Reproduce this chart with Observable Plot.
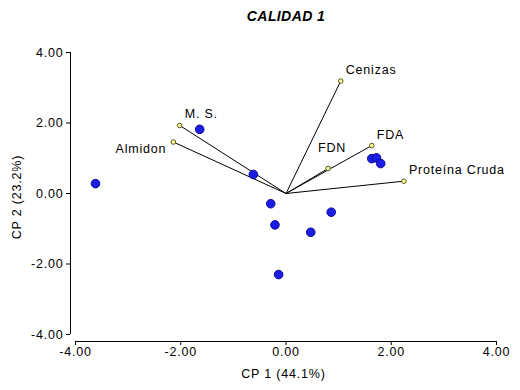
<!DOCTYPE html>
<html>
<head>
<meta charset="utf-8">
<script src="https://cdn.jsdelivr.net/npm/d3@7"></script>
<script src="https://cdn.jsdelivr.net/npm/@observablehq/plot@0.6"></script>
<style>
  html, body { margin: 0; padding: 0; background: #fff; }
  #wrap { position: relative; width: 520px; height: 390px; font-family: "Liberation Sans", Arial, sans-serif; }
  #title { position: absolute; left: 0; width: 572px; top: 8px; text-align: center; font-weight: bold; font-style: italic; font-size: 14px; letter-spacing: 0.4px; color: #000; }
  #wrap svg text { letter-spacing: 0.8px; }
</style>
</head>
<body>
<div id="wrap"><div id="title">CALIDAD 1</div></div>
<script>
// Observation scores (CP 1, CP 2)
const scoreX = [-3.62, -1.64, -0.62, -0.29, -0.21, -0.14, 0.47, 0.86, 1.63, 1.72, 1.80];
const scoreY = [0.28, 1.82, 0.54, -0.29, -0.89, -2.30, -1.10, -0.53, 0.99, 1.01, 0.85];

// Variable loadings (vector end points)
const varNames = ["Cenizas", "FDA", "FDN", "Proteína Cruda", "M. S.", "Almidon"];
const loadX = [1.04, 1.63, 0.80, 2.24, -2.02, -2.14];
const loadY = [3.19, 1.36, 0.71, 0.35, 1.93, 1.46];

const ticks = [-4, -2, 0, 2, 4];

const scores = scoreX.map((x, i) => ({x, y: scoreY[i]}));
const loads = varNames.map((name, i) => ({name, x: loadX[i], y: loadY[i]}));

const fmt = d => d.toFixed(2);
const font = "Liberation Sans, Arial, sans-serif";

const chart = Plot.plot({
  width: 520,
  height: 390,
  marginLeft: 70,
  marginRight: 24,
  marginTop: 52,
  marginBottom: 49,
  insetLeft: 5,
  insetBottom: 7,
  style: {fontFamily: font, fontSize: "12.5px", color: "#000", background: "#fff"},
  x: {domain: [-4, 4]},
  y: {domain: [-4, 4]},
  marks: [
    Plot.ruleY([-4], {x1: -4, x2: 4, dy: 7, stroke: "#000"}),
    Plot.ruleX([-4], {y1: -4, y2: 4, dx: -5, stroke: "#000"}),
    Plot.axisX({ticks, tickFormat: fmt, tickSize: 4, tickPadding: 2, label: "CP 1 (44.1%)", labelAnchor: "center", labelArrow: "none", labelOffset: 36, fontSize: 12.5, fill: "#000", stroke: "#000"}),
    Plot.axisY({ticks, tickFormat: fmt, tickSize: 4, tickPadding: 3, label: "CP 2 (23.2%)", labelAnchor: "center", labelArrow: "none", labelOffset: 58, fontSize: 12.5, fill: "#000", stroke: "#000"}),
    Plot.link(loads, {x1: 0, y1: 0, x2: "x", y2: "y", stroke: "#000", strokeWidth: 1}),
    Plot.dot(loads, {x: "x", y: "y", r: 2.3, fill: "#ffff99", stroke: "#555520", strokeWidth: 1}),
    Plot.dot(scores, {x: "x", y: "y", r: 4.3, fill: "#1c1ce8", stroke: "#0a0a90", strokeWidth: 1}),
    Plot.text(loads.filter(d => ["Cenizas", "FDA", "Proteína Cruda", "M. S."].includes(d.name)), {x: "x", y: "y", text: "name", textAnchor: "start", dx: 5, dy: -11, fontSize: 12.5, fill: "#000"}),
    Plot.text(loads.filter(d => d.name === "FDN"), {x: "x", y: "y", text: "name", textAnchor: "start", dx: -10, dy: -20, fontSize: 12.5, fill: "#000"}),
    Plot.text(loads.filter(d => d.name === "Almidon"), {x: "x", y: "y", text: "name", textAnchor: "end", dx: -7, dy: 7, fontSize: 12.5, fill: "#000"})
  ]
});
document.getElementById("wrap").appendChild(chart);
</script>
</body>
</html>
